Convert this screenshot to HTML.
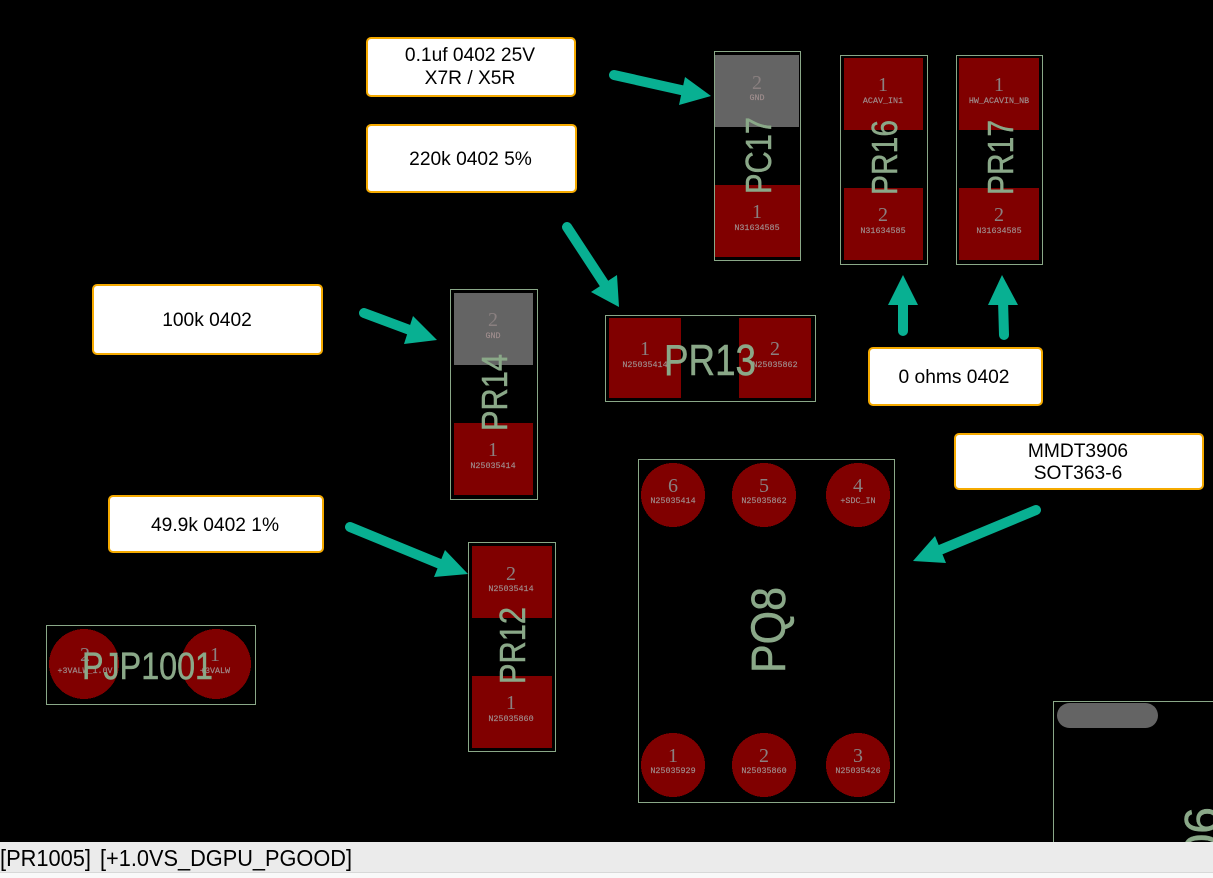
<!DOCTYPE html>
<html><head><meta charset="utf-8"><style>
html,body{margin:0;padding:0;background:#000;width:1213px;height:878px;overflow:hidden}
svg{display:block}
.o{fill:none;stroke:#8aa888;stroke-width:1;shape-rendering:crispEdges}
.r{fill:#800000;shape-rendering:crispEdges}
.g{fill:#646464;shape-rendering:crispEdges}
.n{font-family:"Liberation Serif",serif;font-size:20px;fill:#8a8080;text-anchor:middle}
.l{font-family:"Liberation Mono",monospace;font-size:8.4px;fill:#a08e8e;text-anchor:middle;stroke:#a08e8e;stroke-width:.15}
.d{font-family:"Liberation Sans",sans-serif;fill:#8aa888;stroke:#8aa888;stroke-width:.5}
.b{fill:#fff;stroke:#f5aa00;stroke-width:2}
.t{font-family:"Liberation Sans",sans-serif;font-size:19.2px;fill:#000;text-anchor:middle}
.a{fill:none;stroke:#08b092;stroke-width:10;stroke-linecap:round}
.h{fill:#08b092}
</style></head><body>
<svg width="1213" height="878" viewBox="0 0 1213 878" xmlns="http://www.w3.org/2000/svg">
<rect width="1213" height="878" fill="#000"/>

<!-- PC17 -->
<rect class="g" x="715" y="55" width="84" height="72"/>
<rect class="r" x="715" y="185" width="85" height="72"/>
<rect class="o" x="714.5" y="51.5" width="86" height="209"/>
<text class="n" x="757" y="89">2</text><text class="l" x="757" y="100">GND</text>
<text class="n" x="757" y="218">1</text><text class="l" x="757" y="230">N31634585</text>
<text class="d" transform="translate(771,194) rotate(-90)" font-size="36" textLength="77" lengthAdjust="spacingAndGlyphs">PC17</text>

<!-- PR16 -->
<rect class="r" x="844" y="58" width="79" height="72"/>
<rect class="r" x="844" y="188" width="79" height="72"/>
<rect class="o" x="840.5" y="55.5" width="87" height="209"/>
<text class="n" x="883" y="91">1</text><text class="l" x="883" y="103">ACAV_IN1</text>
<text class="n" x="883" y="221">2</text><text class="l" x="883" y="233">N31634585</text>
<text class="d" transform="translate(897,195) rotate(-90)" font-size="36" textLength="75" lengthAdjust="spacingAndGlyphs">PR16</text>

<!-- PR17 -->
<rect class="r" x="959" y="58" width="80" height="72"/>
<rect class="r" x="959" y="188" width="80" height="72"/>
<rect class="o" x="956.5" y="55.5" width="86" height="209"/>
<text class="n" x="999" y="91">1</text><text class="l" x="999" y="103">HW_ACAVIN_NB</text>
<text class="n" x="999" y="221">2</text><text class="l" x="999" y="233">N31634585</text>
<text class="d" transform="translate(1013,195) rotate(-90)" font-size="36" textLength="75" lengthAdjust="spacingAndGlyphs">PR17</text>

<!-- PR14 -->
<rect class="g" x="454" y="293" width="79" height="72"/>
<rect class="r" x="454" y="423" width="79" height="72"/>
<rect class="o" x="450.5" y="289.5" width="87" height="210"/>
<text class="n" x="493" y="326">2</text><text class="l" x="493" y="338">GND</text>
<text class="n" x="493" y="456">1</text><text class="l" x="493" y="468">N25035414</text>
<text class="d" transform="translate(507,431) rotate(-90)" font-size="36.5" textLength="77" lengthAdjust="spacingAndGlyphs">PR14</text>

<!-- PR13 -->
<rect class="r" x="609" y="318" width="72" height="80"/>
<rect class="r" x="739" y="318" width="72" height="80"/>
<rect class="o" x="605.5" y="315.5" width="210" height="86"/>
<text class="n" x="645" y="355">1</text><text class="l" x="645" y="367">N25035414</text>
<text class="n" x="775" y="355">2</text><text class="l" x="775" y="367">N25035862</text>
<text class="d" x="664" y="375" font-size="44" textLength="92" lengthAdjust="spacingAndGlyphs">PR13</text>

<!-- PQ8 -->
<circle class="r" cx="673" cy="495" r="32"/><circle class="r" cx="764" cy="495" r="32"/><circle class="r" cx="858" cy="495" r="32"/>
<circle class="r" cx="673" cy="765" r="32"/><circle class="r" cx="764" cy="765" r="32"/><circle class="r" cx="858" cy="765" r="32"/>
<rect class="o" x="638.5" y="459.5" width="256" height="343"/>
<text class="n" x="673" y="492">6</text><text class="l" x="673" y="503">N25035414</text>
<text class="n" x="764" y="492">5</text><text class="l" x="764" y="503">N25035862</text>
<text class="n" x="858" y="492">4</text><text class="l" x="858" y="503">+SDC_IN</text>
<text class="n" x="673" y="762">1</text><text class="l" x="673" y="773">N25035929</text>
<text class="n" x="764" y="762">2</text><text class="l" x="764" y="773">N25035860</text>
<text class="n" x="858" y="762">3</text><text class="l" x="858" y="773">N25035426</text>
<text class="d" transform="translate(785,673) rotate(-90)" font-size="48" textLength="86" lengthAdjust="spacingAndGlyphs">PQ8</text>

<!-- PR12 -->
<rect class="r" x="472" y="546" width="80" height="72"/>
<rect class="r" x="472" y="676" width="80" height="72"/>
<rect class="o" x="468.5" y="542.5" width="87" height="209"/>
<text class="n" x="511" y="580">2</text><text class="l" x="511" y="591">N25035414</text>
<text class="n" x="511" y="709">1</text><text class="l" x="511" y="721">N25035860</text>
<text class="d" transform="translate(525,684) rotate(-90)" font-size="36.5" textLength="77" lengthAdjust="spacingAndGlyphs">PR12</text>

<!-- PJP1001 -->
<circle class="r" cx="84" cy="664" r="35"/><circle class="r" cx="216" cy="664" r="35"/>
<rect class="o" x="46.5" y="625.5" width="209" height="79"/>
<text class="n" x="85" y="661">2</text><text class="l" x="85" y="673" textLength="55" lengthAdjust="spacingAndGlyphs">+3VALW_1.0V</text>
<text class="n" x="215" y="661">1</text><text class="l" x="215" y="673">+3VALW</text>
<text class="d" x="82" y="679" font-size="38" textLength="131" lengthAdjust="spacingAndGlyphs">PJP1001</text>

<!-- partial component -->
<rect x="1057" y="703" width="101" height="25" rx="12.5" fill="#646464"/>
<rect class="o" x="1053.5" y="701.5" width="170" height="160"/>
<text class="d" transform="translate(1218,807) rotate(-90)" font-size="48" text-anchor="end">06</text>

<!-- callouts -->
<rect class="b" x="367" y="38" width="208" height="58" rx="4"/>
<text class="t" x="470" y="61">0.1uf 0402 25V</text>
<text class="t" x="470" y="84">X7R / X5R</text>
<rect class="b" x="367" y="125" width="209" height="67" rx="4"/>
<text class="t" x="470.5" y="165">220k 0402 5%</text>
<rect class="b" x="93" y="285" width="229" height="69" rx="4"/>
<text class="t" x="207" y="326">100k 0402</text>
<rect class="b" x="109" y="496" width="214" height="56" rx="4"/>
<text class="t" x="215" y="531">49.9k 0402 1%</text>
<rect class="b" x="869" y="348" width="173" height="57" rx="4"/>
<text class="t" x="954" y="383">0 ohms 0402</text>
<rect class="b" x="955" y="434" width="248" height="55" rx="4"/>
<text class="t" x="1078" y="457">MMDT3906</text><text class="t" x="1078" y="479">SOT363-6</text>

<!-- arrows -->
<line class="a" x1="614" y1="75" x2="690" y2="92"/><polygon class="h" points="711,96 685,77 679,105"/>
<line class="a" x1="567" y1="227" x2="605" y2="285"/><polygon class="h" points="619,307 617,275 591,292"/>
<line class="a" x1="364" y1="313" x2="415" y2="332"/><polygon class="h" points="437,340 413,316 404,344"/>
<line class="a" x1="350" y1="527" x2="445" y2="566"/><polygon class="h" points="468,574 445,550 434,577"/>
<line class="a" x1="1036" y1="510" x2="935" y2="552"/><polygon class="h" points="913,561 935,536 946,563"/>
<line class="a" x1="903" y1="331" x2="903" y2="300"/><polygon class="h" points="903,275 888,305 918,305"/>
<line class="a" x1="1004" y1="335" x2="1003" y2="300"/><polygon class="h" points="1002,275 988,305 1018,305"/>

<!-- status bar -->
<rect x="0" y="842" width="1213" height="30" fill="#ebebeb"/>
<rect x="0" y="872" width="1213" height="1" fill="#d8d8d8"/>
<rect x="0" y="873" width="1213" height="5" fill="#f9f9f9"/>
<text x="0" y="866" font-family="Liberation Sans, sans-serif" font-size="23.5" fill="#000" textLength="91" lengthAdjust="spacingAndGlyphs">[PR1005]</text>
<text x="100" y="866" font-family="Liberation Sans, sans-serif" font-size="23.5" fill="#000" textLength="252" lengthAdjust="spacingAndGlyphs">[+1.0VS_DGPU_PGOOD]</text>
</svg>
</body></html>
